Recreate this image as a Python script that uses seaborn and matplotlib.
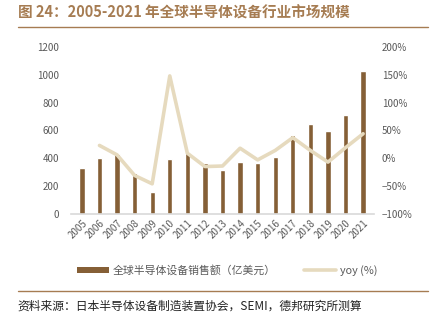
import matplotlib
matplotlib.use("Agg")
import matplotlib.pyplot as plt
import seaborn as sns
import pandas as pd
from matplotlib.lines import Line2D
from matplotlib.patches import Patch

years = ["2005", "2006", "2007", "2008", "2009", "2010", "2011", "2012", "2013",
         "2014", "2015", "2016", "2017", "2018", "2019", "2020", "2021"]
sales = [330, 405, 428, 295, 159, 395, 435, 369, 318, 375, 365, 412, 566, 645, 598, 712, 1026]
yoy = [None, 23, 6, -31, -46, 148, 9, -15, -14, 18, -3, 14, 37, 14, -7, 19, 44]

yticks_left = [0, 200, 400, 600, 800, 1000, 1200]
yticks_right = [-100, -50, 0, 50, 100, 150, 200]

bar_color = "#855f36"
line_color = "#e6dabe"
title_color = "#a67c52"
tick_color = "#595959"

sns.set_theme(style="white")
plt.rcParams["font.family"] = ["Noto Sans CJK SC", "DejaVu Sans"]

df = pd.DataFrame({"year": years, "sales": sales, "yoy": yoy})

fig = plt.figure(figsize=(4.35, 3.24), dpi=100)
ax = fig.add_axes([0.164, 0.34, 0.695, 0.515])

sns.barplot(data=df, x="year", y="sales", color=bar_color, width=0.3,
            saturation=1, ax=ax)
ax.set_ylim(0, 1200)
ax.set_yticks(yticks_left)
ax.set_yticklabels([str(v) for v in yticks_left], fontsize=7, color=tick_color)
ax.set_xlabel("")
ax.set_ylabel("")
ax.set_xticks(range(len(years)))
ax.set_xticklabels(years, rotation=45, ha="right", rotation_mode="anchor",
                   fontsize=7, color=tick_color)
ax.tick_params(axis="both", length=0, pad=3)
ax.tick_params(axis="y", pad=9)
for s in ["top", "right", "left"]:
    ax.spines[s].set_visible(False)
ax.spines["bottom"].set_color("#d9d9d9")
ax.spines["bottom"].set_linewidth(1.2)
ax.set_xlim(-0.6, len(years) - 0.4)

ax2 = ax.twinx()
yoy_df = df.dropna(subset=["yoy"]).copy()
yoy_df["pos"] = [years.index(y) for y in yoy_df["year"]]
sns.lineplot(data=yoy_df, x="pos", y="yoy", color=line_color, linewidth=2.6,
             ax=ax2, legend=False)
ax2.set_ylim(-100, 200)
ax2.set_yticks(yticks_right)
ax2.set_yticklabels([f"{v}%".replace("-", "\u2212") for v in yticks_right],
                    fontsize=7, color=tick_color)
ax2.set_ylabel("")
ax2.set_xlabel("")
ax2.tick_params(axis="y", length=0, pad=6)
for s in ["top", "right", "left", "bottom"]:
    ax2.spines[s].set_visible(False)
ax2.set_xlim(-0.6, len(years) - 0.4)

handles = [Patch(facecolor=bar_color, edgecolor="none"),
           Line2D([0], [0], color=line_color, linewidth=2.6)]
fig.legend(handles, ["全球半导体设备销售额（亿美元）", "yoy (%)"],
           loc="center", bbox_to_anchor=(0.523, 0.165), ncol=2, frameon=False,
           fontsize=7.8, handlelength=2.9, handleheight=0.55, handletextpad=0.4,
           columnspacing=2.6, labelcolor=tick_color)

fig.text(0.041, 0.962, "图 24：2005-2021 年全球半导体设备行业市场规模",
         fontsize=10.5, fontweight="bold", color=title_color, va="center")
fig.add_artist(Line2D([0.041, 0.984], [0.916, 0.916], color=title_color,
                      linewidth=1.0, transform=fig.transFigure))
fig.add_artist(Line2D([0.041, 0.984], [0.101, 0.101], color=title_color,
                      linewidth=1.0, transform=fig.transFigure))
fig.text(0.041, 0.056, "资料来源：日本半导体设备制造装置协会，SEMI，德邦研究所测算",
         fontsize=8.5, color="#222222", va="center")

fig.savefig("out.png", dpi=100)
